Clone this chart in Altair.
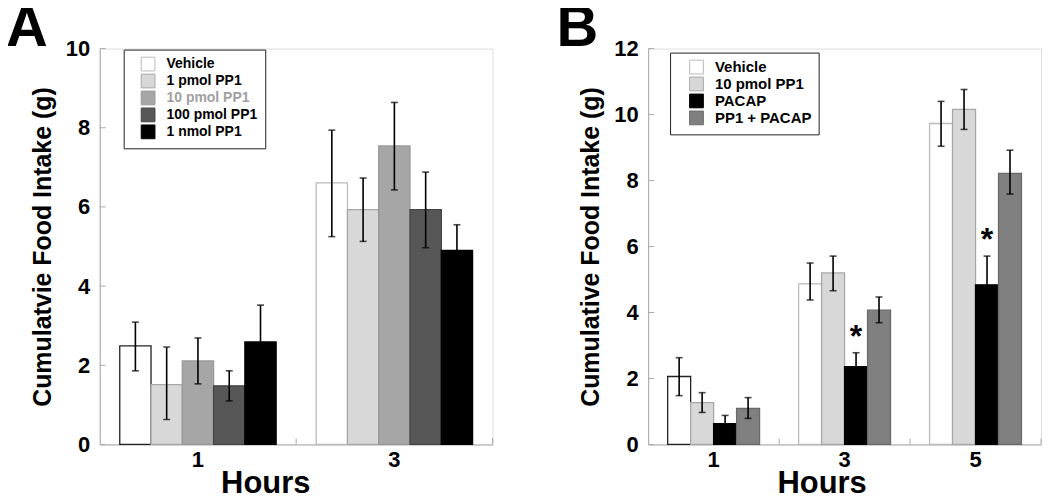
import altair as alt
import pandas as pd

FONT = "Liberation Sans"

# ---------------- Panel A data ----------------
hours_a = ["1", "3"]
groups_a = ["Vehicle", "1 pmol PP1", "10 pmol PP1", "100 pmol PP1", "1 nmol PP1"]
mean_a_1h = [2.49, 1.51, 2.11, 1.48, 2.59]
lo_a_1h = [1.86, 0.63, 1.53, 1.10, 1.66]
hi_a_1h = [3.09, 2.46, 2.69, 1.86, 3.52]
mean_a_3h = [6.61, 5.93, 7.54, 5.93, 4.90]
lo_a_3h = [5.25, 5.13, 6.43, 4.97, 4.25]
hi_a_3h = [7.94, 6.73, 8.64, 6.88, 5.55]
yticks_a = [0, 2, 4, 6, 8, 10]

# ---------------- Panel B data ----------------
hours_b = ["1", "3", "5"]
groups_b = ["Vehicle", "10 pmol PP1", "PACAP", "PP1 + PACAP"]
mean_b_1h = [2.06, 1.27, 0.63, 1.09]
lo_b_1h = [1.48, 0.97, 0.38, 0.79]
hi_b_1h = [2.63, 1.57, 0.88, 1.42]
mean_b_3h = [4.87, 5.20, 2.36, 4.07]
lo_b_3h = [4.38, 4.66, 1.94, 3.69]
hi_b_3h = [5.50, 5.71, 2.78, 4.47]
mean_b_5h = [9.73, 10.16, 4.84, 8.22]
lo_b_5h = [9.04, 9.55, 3.97, 7.59]
hi_b_5h = [10.40, 10.76, 5.71, 8.92]
yticks_b = [0, 2, 4, 6, 8, 10, 12]
star_hours_b = ["3", "5"]
star_group_b = ["PACAP", "PACAP"]
star_value_b = [2.96, 5.90]

# ---------------- styles ----------------
fills_a = ["#ffffff", "#d8d8d8", "#a6a6a6", "#575757", "#000000"]
strokes_a = ["#bbbbbb", "#a8a8a8", "#999999", "#444444", "#000000"]
fills_b = ["#ffffff", "#d8d8d8", "#000000", "#808080"]
strokes_b = ["#bbbbbb", "#a8a8a8", "#000000", "#6a6a6a"]


def build_df(hours, groups, means, los, his):
    rows = []
    for h, m, l, u in zip(hours, means, los, his):
        for g, mv, lv, uv in zip(groups, m, l, u):
            rows.append({"hour": h, "group": g, "value": mv, "lo": lv, "hi": uv})
    return pd.DataFrame(rows)


def panel(df, hours, groups, fills, strokes, ymax, yticks, ytitle, letter,
          letter_dx, pad_outer, legend_x, legend_y, label_color, leg_font,
          leg_sym_off, xtitle_x, stars=None):
    W, H = 394, 397
    xscale = alt.Scale(domain=hours, paddingInner=0, paddingOuter=0)
    xaxis = alt.Axis(title="Hours", labelAngle=0, ticks=False, domainColor="#aaaaaa",
                     labelFont=FONT, labelFontSize=22, labelFontWeight="bold",
                     labelColor="black", labelPadding=5, titleFont=FONT,
                     titleFontSize=31, titleFontWeight="bold", titleColor="black",
                     titlePadding=-2, titleX=xtitle_x, titleAlign="center")
    yscale = alt.Scale(domain=[0, ymax], nice=False, zero=True)
    yaxis = alt.Axis(title=ytitle, values=yticks, ticks=False, grid=False,
                     domainColor="#aaaaaa", labelFont=FONT, labelFontSize=22,
                     labelFontWeight="bold", labelColor="black", labelPadding=10,
                     titleFont=FONT, titleFontSize=25, titleFontWeight="bold",
                     titleColor="black", titlePadding=10)
    X = lambda field="hour:N": alt.X(field, sort=hours, scale=xscale, axis=xaxis, title="Hours")
    XO = alt.XOffset("group:N", sort=groups,
                     scale=alt.Scale(domain=groups, paddingInner=0, paddingOuter=pad_outer))

    base = alt.Chart(df)
    bars = base.mark_bar(strokeWidth=1.3).encode(
        x=X(),
        xOffset=XO,
        y=alt.Y("value:Q", scale=yscale, axis=yaxis, title=ytitle),
        color=alt.Color("group:N", sort=groups,
                        scale=alt.Scale(domain=groups, range=fills),
                        legend=alt.Legend(
                            orient="none", legendX=legend_x, legendY=legend_y,
                            title=None, strokeColor="#222222", fillColor="white",
                            padding=7, symbolType="square", symbolSize=190,
                            symbolStrokeColor="#999999", symbolStrokeWidth=1,
                            symbolOffset=leg_sym_off, labelFont=FONT,
                            labelFontSize=leg_font, labelFontWeight="bold",
                            labelColor=label_color, labelOffset=11, rowPadding=-3,
                            labelLimit=300)),
        stroke=alt.condition(
            "datum.group == 'Vehicle' && datum.hour == '1'",
            alt.value("#222222"),
            alt.Stroke("group:N", sort=groups,
                       scale=alt.Scale(domain=groups, range=strokes), legend=None)),
    )
    err = base.mark_rule(color="black", strokeWidth=1.6).encode(
        x=X(), xOffset=XO,
        y=alt.Y("lo:Q", scale=yscale, axis=yaxis, title=ytitle),
        y2="hi:Q",
    )
    cap_lo = base.mark_tick(color="black", thickness=1.6, size=7).encode(
        x=X(), xOffset=XO,
        y=alt.Y("lo:Q", scale=yscale, axis=yaxis, title=ytitle),
    )
    cap_hi = base.mark_tick(color="black", thickness=1.6, size=7).encode(
        x=X(), xOffset=XO,
        y=alt.Y("hi:Q", scale=yscale, axis=yaxis, title=ytitle),
    )
    yt = alt.Chart(pd.DataFrame({"t": yticks})).mark_rule(color="#aaaaaa", strokeWidth=1).encode(
        y=alt.Y("t:Q", scale=yscale, axis=yaxis, title=ytitle),
        x=alt.value(0), x2=alt.value(6),
    )
    xt = alt.Chart(pd.DataFrame({"hour": hours})).mark_rule(color="#aaaaaa", strokeWidth=1).encode(
        x=alt.X("hour:N", sort=hours, scale=xscale, axis=xaxis, title="Hours", bandPosition=1),
        y=alt.value(H), y2=alt.value(H - 6),
    )
    layers = [bars, err, cap_lo, cap_hi, yt, xt]
    if stars is not None:
        sdf = pd.DataFrame({"hour": stars[0], "group": stars[1], "value": stars[2]})
        st = alt.Chart(sdf).mark_text(text="*", font=FONT, fontSize=32, fontWeight="bold",
                                      color="black", baseline="alphabetic").encode(
            x=X(), xOffset=XO,
            y=alt.Y("value:Q", scale=yscale, axis=yaxis, title=ytitle),
        )
        layers.append(st)
    return alt.layer(*layers).properties(
        width=W, height=H,
        title=alt.TitleParams(letter, anchor="start", frame="group", dx=letter_dx,
                              font=FONT, fontSize=58, fontWeight="bold", color="black",
                              offset=-20),
    )


df_a = build_df(hours_a, groups_a, [mean_a_1h, mean_a_3h], [lo_a_1h, lo_a_3h], [hi_a_1h, hi_a_3h])
df_b = build_df(hours_b, groups_b, [mean_b_1h, mean_b_3h, mean_b_5h],
                [lo_b_1h, lo_b_3h, lo_b_5h], [hi_b_1h, hi_b_3h, hi_b_5h])

label_color_a = alt.ExprRef(expr="datum.label == '10 pmol PP1' ? '#a0a0a0' : 'black'")

pa = panel(df_a, hours_a, groups_a, fills_a, strokes_a, 10, yticks_a,
           "Cumulatvie Food Intake (g)", "A", -94, 0.64, 24, 1, label_color_a,
           14, 10, 166)
pb = panel(df_b, hours_b, groups_b, fills_b, strokes_b, 12, yticks_b,
           "Cumulative Food Intake (g)", "B", -92, 0.85, 22, 4, "black",
           15, 12, 174, stars=(star_hours_b, star_group_b, star_value_b))

chart = alt.hconcat(pa, pb, spacing=62).resolve_scale(
    color="independent", stroke="independent", x="independent",
    y="independent", xOffset="independent"
).resolve_legend(color="independent").properties(
    padding={"left": -3, "top": -10, "right": 0, "bottom": 0}
).configure_view(stroke=None).configure(background="white")

chart.save("out.html", embed_options={"renderer": "svg", "actions": False})
